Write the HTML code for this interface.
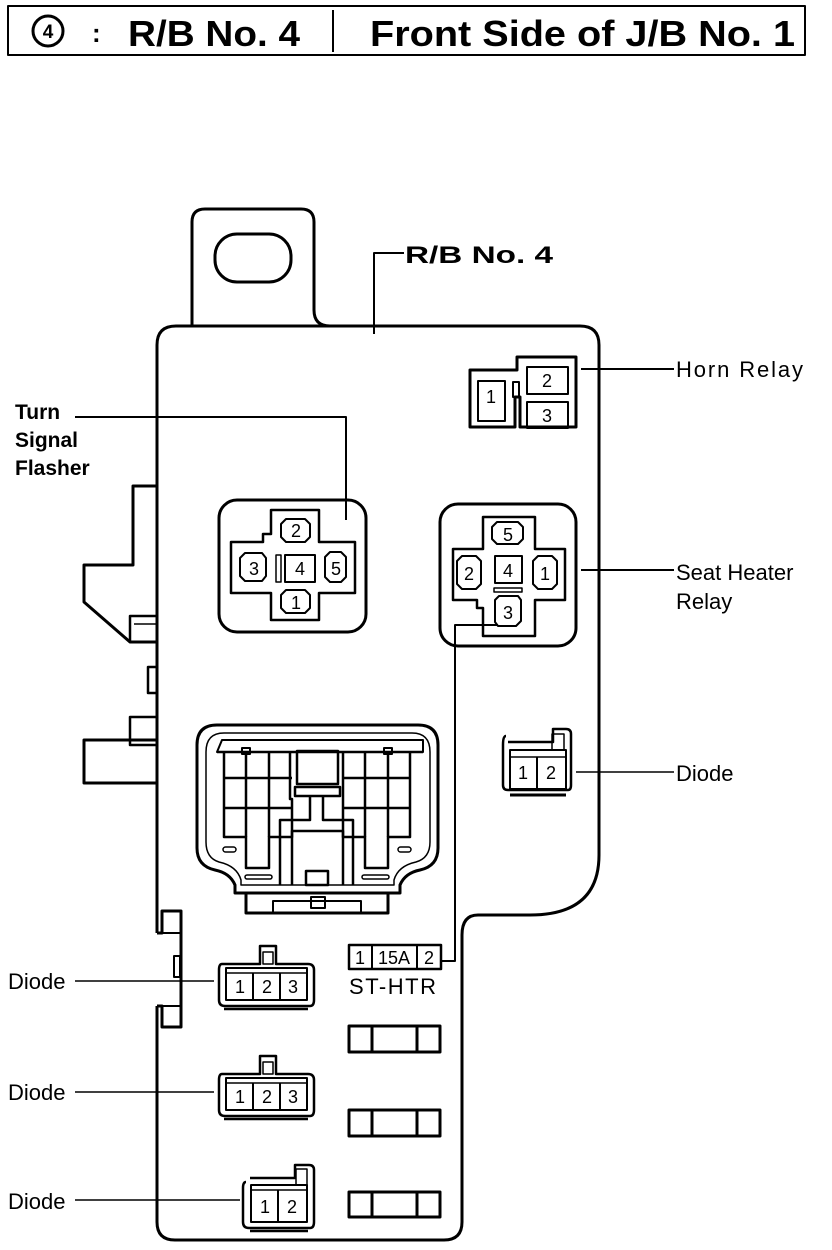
<!DOCTYPE html>
<html><head><meta charset="utf-8"><style>
html,body{margin:0;padding:0;background:#fff;}
svg{display:block;}
text{font-family:"Liberation Sans",Arial,sans-serif;fill:#000;}
</style></head><body>
<svg width="832" height="1250" viewBox="0 0 832 1250" xmlns="http://www.w3.org/2000/svg">
<g fill="none" stroke="#000" stroke-width="3" stroke-linejoin="round">
<rect x="8" y="6" width="797" height="49" stroke-width="2"/>
<line x1="333" y1="10" x2="333" y2="52" stroke-width="2"/>
<circle cx="48" cy="31" r="15"/>

<path d="M192 326 L192 222 Q192 209 205 209 L301 209 Q314 209 314 222 L314 310 Q314 326 330 326"/>
<rect x="215" y="234" width="76" height="48" rx="22"/>

<path d="M157 486 L157 345 Q157 326 176 326 L580 326 Q599 326 599 345 L599 855 Q599 915 530 915 L478 915 Q462 915 462 935 L462 1222 Q462 1240 444 1240 L175 1240 Q157 1240 157 1222 L157 1006"/>
<path d="M157 486 L157 933"/>
<path d="M157 486 L133 486 L133 565 L84 565 L84 602 L130 642 L157 642" />
<rect x="130" y="616" width="27" height="26" stroke-width="2.5"/>
<line x1="134" y1="624" x2="157" y2="624" stroke-width="1.5"/>
<rect x="148" y="667" width="9" height="26" stroke-width="2.5"/>
<rect x="130" y="717" width="27" height="28" stroke-width="2.5"/>
<line x1="134" y1="740" x2="157" y2="740" stroke-width="1.5"/>
<rect x="84" y="740" width="73" height="43"/>
<path d="M157 933 L162 933 L162 911 L181 911 L181 1027 L162 1027 L162 1006 L157 1006"/>
<line x1="162" y1="933" x2="181" y2="933" stroke-width="2"/>
<line x1="162" y1="1006" x2="181" y2="1006" stroke-width="2"/>
<rect x="174" y="956" width="6" height="21" stroke-width="2"/>

<path d="M404 253 L374 253 L374 334" stroke-width="2"/>

<path d="M470 370 L517 370 L517 357 L576 357 L576 427 L520 427 L520 397 L515 397 L515 427 L470 427 Z"/>
<rect x="478" y="381" width="27" height="40" stroke-width="2"/>
<rect x="527" y="367" width="41" height="27" stroke-width="2"/>
<rect x="527" y="402" width="41" height="26" stroke-width="2"/>
<rect x="513" y="382" width="6" height="15" stroke-width="2"/>
<line x1="581" y1="369" x2="674" y2="369" stroke-width="2"/>

<path d="M75 417 L346 417 L346 520" stroke-width="2"/>
<rect x="219" y="500" width="147" height="132" rx="18"/>
<g transform="translate(0,-22)">
<path d="M271 532 L319 532 L319 564 L355 564 L355 615 L319 615 L319 642 L271 642 L271 615 L231 615 L231 564 L263 564 L263 556 L271 556 Z" stroke-width="2.5"/>
<path d="M281 527 L286 522 L305 522 L310 527 L310 540 L305 545 L286 545 L281 540 Z" transform="translate(0,19)" stroke-width="2"/>
<path d="M281 527 L286 522 L305 522 L310 527 L310 540 L305 545 L286 545 L281 540 Z" transform="translate(0,90)" stroke-width="2"/>
<path d="M240 580 L245 575 L262 575 L266 580 L266 598 L262 603 L245 603 L240 598 Z" stroke-width="2"/>
<path d="M325 579 L330 574 L341 574 L346 579 L346 599 L341 604 L330 604 L325 599 Z" stroke-width="2"/>
<rect x="285" y="577" width="30" height="27" stroke-width="2"/>
<rect x="276" y="577" width="5" height="27" stroke-width="1.5"/>
</g>

<rect x="440" y="504" width="136" height="142" rx="18"/>
<path d="M483 517 L535 517 L535 549 L565 549 L565 600 L535 600 L535 636 L483 636 L483 608 L477 608 L477 600 L453 600 L453 549 L483 549 Z" stroke-width="2.5"/>
<path d="M492 527 L497 522 L518 522 L523 527 L523 539 L518 544 L497 544 L492 539 Z" stroke-width="2"/>
<path d="M457 561 L462 556 L476 556 L481 561 L481 584 L476 589 L462 589 L457 584 Z" stroke-width="2"/>
<path d="M533 561 L538 556 L552 556 L557 561 L557 584 L552 589 L538 589 L533 584 Z" stroke-width="2"/>
<rect x="495" y="556" width="27" height="27" stroke-width="2"/>
<rect x="494" y="588" width="28" height="4" stroke-width="1.5"/>
<path d="M495 600 L499 596 L518 596 L521 600 L521 621 L516 626 L498 626 L495 622 Z" stroke-width="2"/>
<path d="M498 625 L455 625 L455 961 L441 961" stroke-width="2"/>
<line x1="581" y1="570" x2="674" y2="570" stroke-width="2"/>

<path d="M197 745 Q197 725 217 725 L418 725 Q438 725 438 745 L438 848 Q438 866 420 870 Q405 873 400 885 L400 893 L235 893 L235 885 Q230 873 215 870 Q197 866 197 848 Z"/>
<path d="M206 752 Q206 733 224 733 L412 733 Q430 733 430 752 L430 842 Q430 858 416 862 Q398 866 394 880 L394 885 L241 885 L241 880 Q237 866 219 862 Q206 858 206 842 Z" stroke-width="1.5"/>
<rect x="246" y="893" width="142" height="20"/>
<rect x="273" y="901" width="88" height="12" stroke-width="2"/>
<rect x="311" y="897" width="14" height="11" stroke-width="2"/>
<path d="M217 752 L222 740 L423 740 L423 752 Z" stroke-width="2"/>
<line x1="217" y1="752" x2="423" y2="752" stroke-width="2.5"/>
<g stroke-width="2.5">
<path d="M224 752 L224 837 L246 837 L246 868 L269 868 L269 837 L292 837 L292 799 L290 799 L290 752"/>
<line x1="246" y1="752" x2="246" y2="837"/>
<line x1="269" y1="752" x2="269" y2="837"/>
<line x1="224" y1="778" x2="292" y2="778"/>
<line x1="224" y1="808" x2="292" y2="808"/>
<path d="M410 752 L410 837 L388 837 L388 868 L365 868 L365 837 L343 837 L343 799 L343 752"/>
<line x1="388" y1="752" x2="388" y2="837"/>
<line x1="365" y1="752" x2="365" y2="837"/>
<line x1="343" y1="778" x2="410" y2="778"/>
<line x1="343" y1="808" x2="410" y2="808"/>
<rect x="297" y="751" width="41" height="33"/>
<rect x="295" y="787" width="45" height="9"/>
<path d="M310 796 L310 820 L280 820 L280 885"/>
<path d="M323 796 L323 820 L353 820 L353 885"/>
<path d="M292 885 L292 831 L343 831 L343 885"/>
<rect x="306" y="871" width="22" height="14"/>
</g>
<rect x="242" y="748" width="8" height="6" stroke-width="2"/>
<rect x="384" y="748" width="8" height="6" stroke-width="2"/>
<rect x="223" y="847" width="13" height="5" rx="2.5" stroke-width="1.5"/>
<rect x="398" y="847" width="13" height="5" rx="2.5" stroke-width="1.5"/>
<rect x="245" y="875" width="27" height="4" rx="2" stroke-width="1.5"/>
<rect x="362" y="875" width="27" height="4" rx="2" stroke-width="1.5"/>

<path d="M506 736 Q503 736 503 745 L503 785 Q503 790 508 790 L568 790 Q571 790 571 785 L571 734 Q571 729 566 729 L553 729 L553 742 L508 742" stroke-width="2.5"/>
<rect x="510" y="750" width="56" height="39" stroke-width="2"/>
<line x1="510" y1="757" x2="566" y2="757" stroke-width="1.5"/>
<line x1="537" y1="757" x2="537" y2="789" stroke-width="2"/>
<rect x="552" y="734" width="12" height="16" stroke-width="1.5"/>
<line x1="510" y1="795" x2="566" y2="795" stroke-width="3"/>
<line x1="576" y1="772" x2="674" y2="772" stroke-width="1.5"/>

<rect x="349" y="945" width="92" height="24" stroke-width="2.5"/>
<line x1="372" y1="945" x2="372" y2="969" stroke-width="2"/>
<line x1="417" y1="945" x2="417" y2="969" stroke-width="2"/>
<g stroke-width="3">
<rect x="349" y="1026" width="91" height="26"/><line x1="372" y1="1026" x2="372" y2="1052"/><line x1="417" y1="1026" x2="417" y2="1052"/>
<rect x="349" y="1110" width="91" height="26"/><line x1="372" y1="1110" x2="372" y2="1136"/><line x1="417" y1="1110" x2="417" y2="1136"/>
<rect x="349" y="1192" width="91" height="25"/><line x1="372" y1="1192" x2="372" y2="1217"/><line x1="417" y1="1192" x2="417" y2="1217"/>
</g>

<g id="d3">
<path d="M222 964 Q219 964 219 970 L219 1000 Q219 1006 225 1006 L310 1006 Q314 1006 314 1000 L314 970 Q314 964 308 964 L276 964 L276 946 L260 946 L260 964 Z" stroke-width="2.5"/>
<rect x="226" y="968" width="81" height="32" stroke-width="2"/>
<line x1="226" y1="973" x2="307" y2="973" stroke-width="1.5"/>
<line x1="253" y1="973" x2="253" y2="1000" stroke-width="2"/>
<line x1="280" y1="973" x2="280" y2="1000" stroke-width="2"/>
<rect x="263" y="952" width="10" height="12" stroke-width="1.5"/>
<line x1="224" y1="1009" x2="308" y2="1009" stroke-width="2.5"/>
</g>
<use href="#d3" transform="translate(0,110)"/>
<line x1="75" y1="981" x2="214" y2="981" stroke-width="1.5"/>
<line x1="75" y1="1092" x2="214" y2="1092" stroke-width="1.5"/>

<path d="M246 1182 Q243 1182 243 1188 L243 1222 Q243 1228 249 1228 L310 1228 Q314 1228 314 1222 L314 1170 Q314 1165 309 1165 L295 1165 L295 1178 L250 1178" stroke-width="2.5"/>
<rect x="251" y="1185" width="56" height="37" stroke-width="2"/>
<line x1="251" y1="1190" x2="307" y2="1190" stroke-width="1.5"/>
<line x1="278" y1="1190" x2="278" y2="1222" stroke-width="2"/>
<rect x="296" y="1169" width="11" height="16" stroke-width="1.5"/>
<line x1="250" y1="1231" x2="308" y2="1231" stroke-width="2.5"/>
<line x1="75" y1="1200" x2="240" y2="1200" stroke-width="1.5"/>
</g>

<text x="48" y="38" font-size="19" font-weight="bold" text-anchor="middle">4</text>
<text x="92" y="42" font-size="26" font-weight="bold">:</text>
<text x="128" y="46" font-size="36" font-weight="bold" textLength="172" lengthAdjust="spacingAndGlyphs">R/B No. 4</text>
<text x="370" y="46" font-size="36" font-weight="bold" textLength="425" lengthAdjust="spacingAndGlyphs">Front Side of J/B No. 1</text>
<text x="405" y="263" font-size="24" font-weight="bold" textLength="148" lengthAdjust="spacingAndGlyphs">R/B No. 4</text>
<text x="15" y="419" font-size="21" font-weight="bold">Turn</text>
<text x="15" y="447" font-size="21" font-weight="bold">Signal</text>
<text x="15" y="475" font-size="21" font-weight="bold">Flasher</text>
<text x="676" y="377" font-size="22" textLength="127">Horn  Relay</text>
<text x="676" y="580" font-size="22">Seat  Heater</text>
<text x="676" y="609" font-size="22">Relay</text>
<text x="676" y="781" font-size="22">Diode</text>
<text x="8" y="989" font-size="22">Diode</text>
<text x="8" y="1100" font-size="22">Diode</text>
<text x="8" y="1209" font-size="22">Diode</text>
<text x="349" y="994" font-size="22" textLength="87">ST-HTR</text>
<g font-size="18" text-anchor="middle">
<text x="491" y="403">1</text><text x="547" y="387">2</text><text x="547" y="422">3</text>
<text x="296" y="537">2</text><text x="254" y="575">3</text><text x="300" y="575">4</text><text x="336" y="575">5</text><text x="296" y="609">1</text>
<text x="508" y="541">5</text><text x="469" y="580">2</text><text x="508" y="577">4</text><text x="545" y="580">1</text><text x="508" y="619">3</text>
<text x="523" y="779">1</text><text x="551" y="779">2</text>
<text x="360" y="964">1</text><text x="394" y="964">15A</text><text x="429" y="964">2</text>
<text x="240" y="993">1</text><text x="267" y="993">2</text><text x="293" y="993">3</text>
<text x="240" y="1103">1</text><text x="267" y="1103">2</text><text x="293" y="1103">3</text>
<text x="265" y="1213">1</text><text x="292" y="1213">2</text>
</g>
</svg>
</body></html>
